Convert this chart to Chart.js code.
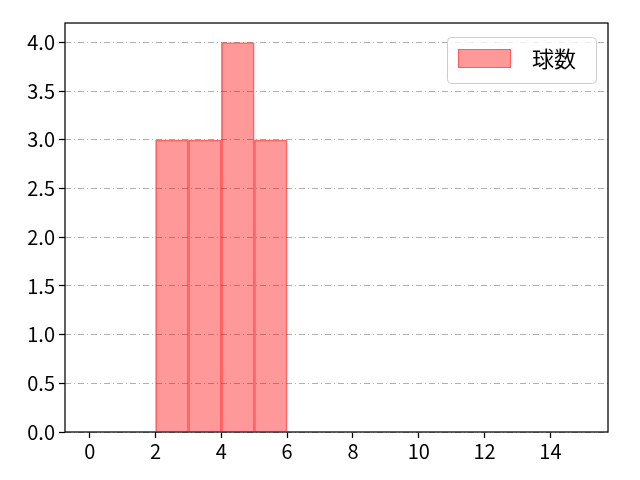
<!DOCTYPE html>
<html>
<head>
<meta charset="utf-8">
<script src="https://cdn.jsdelivr.net/npm/chart.js@4"></script>
<style>
  html, body { margin:0; padding:0; background:#fff; }
  #wrap { width:640px; height:480px; }
</style>
</head>
<body>
<div id="wrap"><canvas id="chart-hist"></canvas></div>
<script>
// Histograma "球数" — bins de largura 1
const binCentros = [2.5, 3.5, 4.5, 5.5];
const contagens = [3, 3, 4, 3];
const xTicks = [0, 2, 4, 6, 8, 10, 12, 14];
const yTicks = [0, 0.5, 1, 1.5, 2, 2.5, 3, 3.5, 4];
const serieNome = '球数';

const FONTE = '"Noto Sans CJK JP", "DejaVu Sans", sans-serif';

// moldura preta + legenda dentro da área do gráfico
const molduraLegenda = {
  id: 'molduraLegenda',
  afterDraw(chart) {
    const a = chart.chartArea, ctx = chart.ctx;
    ctx.save();
    ctx.strokeStyle = '#000';
    ctx.lineWidth = 1.25;
    ctx.strokeRect(a.left, a.top, a.right - a.left, a.bottom - a.top);

    // legenda
    const lx = 447, ly = 37, lw = 149, lh = 46;
    ctx.fillStyle = 'rgba(255,255,255,0.8)';
    ctx.strokeStyle = '#ccc';
    ctx.lineWidth = 1;
    ctx.beginPath();
    ctx.roundRect(lx + 0.5, ly + 0.5, lw, lh, 4);
    ctx.fill();
    ctx.stroke();
    ctx.fillStyle = 'rgba(255,0,0,0.4)';
    ctx.fillRect(lx + 11, ly + 12, 53, 19);
    ctx.strokeStyle = 'rgba(255,0,0,0.4)';
    ctx.strokeRect(lx + 11.5, ly + 12.5, 52, 18);
    ctx.fillStyle = '#000';
    ctx.font = '22px ' + FONTE;
    ctx.textBaseline = 'middle';
    ctx.fillText(serieNome, lx + 85, ly + 22);
    ctx.restore();
  }
};

new Chart(document.getElementById('chart-hist'), {
  type: 'bar',
  data: {
    datasets: [{
      label: serieNome,
      data: binCentros.map((x, i) => ({ x, y: contagens[i] })),
      backgroundColor: 'rgba(255,0,0,0.4)',
      borderColor: 'rgba(255,0,0,0.5)',
      borderWidth: { left: 1, right: 1, top: 1, bottom: 0 },
      barPercentage: 1,
      categoryPercentage: 1
    }]
  },
  options: {
    responsive: true, maintainAspectRatio: false, animation: false,
    layout: { padding: { left: 0, top: 23, right: 32, bottom: 0 } },
    plugins: { legend: { display: false }, tooltip: { enabled: false } },
    scales: {
      x: {
        type: 'linear', min: -0.75, max: 15.75, offset: false,
        afterBuildTicks: s => { s.ticks = xTicks.map(v => ({ value: v })); },
        afterFit: s => { s.height = 48; },
        grid: { drawOnChartArea: false, offset: false, tickLength: 6, tickColor: '#000', tickWidth: 1.25 },
        border: { display: false },
        ticks: { color: '#000', font: { size: 20, family: FONTE }, padding: 1, maxRotation: 0 }
      },
      y: {
        min: 0, max: 4.2,
        afterBuildTicks: s => { s.ticks = yTicks.map(v => ({ value: v })); },
        afterFit: s => { s.width = 65; },
        grid: { color: '#b0b0b0', lineWidth: 1, tickLength: 6, tickColor: '#000', tickWidth: 1.25, tickBorderDash: [] },
        border: { display: false, dash: [6, 3, 1, 3] },
        ticks: { color: '#000', font: { size: 20, family: FONTE }, padding: 4, callback: v => v.toFixed(1) }
      }
    }
  },
  plugins: [molduraLegenda]
});
</script>
</body>
</html>
